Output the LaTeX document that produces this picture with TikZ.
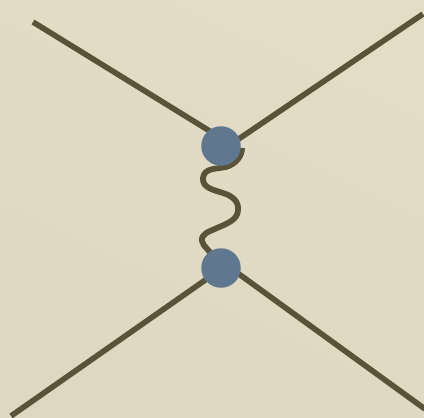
\documentclass[tikz,border=0pt]{standalone}
\usetikzlibrary{backgrounds}
\definecolor{bgA}{HTML}{E3DDC6}
\definecolor{bgB}{HTML}{DED8C2}
\definecolor{lineC}{HTML}{5A5339}
\definecolor{ballC}{HTML}{5F7890}
\tikzset{
  ball/.style={circle,fill=ballC,draw=none,minimum size=39.5pt,inner sep=0pt},
  leg/.style={draw=lineC,line width=5.6pt},
  wave/.style={draw=lineC,line width=5.8pt,line join=round}
}
\begin{document}
\begin{tikzpicture}[x=1pt,y=-1pt]
\useasboundingbox (0,0) rectangle (424,418);
\coordinate (tl) at (33,22);
\coordinate (tr) at (423,14);
\coordinate (bl) at (11,416);
\coordinate (br) at (425,409);
\node[ball] (top) at (221,146) {};
\node[ball] (bot) at (221,268) {};
\begin{scope}[on background layer]
\shade[left color=bgA,right color=bgB,shading angle=-25] (0,0) rectangle (424,418);
\draw[leg] (tl) -- ([yshift=8pt]top.center);
\draw[leg] (tr) -- ([yshift=-5pt]top.center);
\draw[leg] (bl) -- ([yshift=-1pt]bot.center);
\draw[leg] (br) -- ([yshift=7pt]bot.center);
\draw[wave] ([shift={(21,2)}]top.center)
  .. controls (242,156) and (236,164) .. (226,167)
  .. controls (216,169) and (204,168) .. (203,178)
  .. controls (202,188) and (214,190) .. (223,193)
  .. controls (233,196) and (239,202) .. (238,210)
  .. controls (238,220) and (226,224) .. (217,228)
  .. controls (208,232) and (201,234) .. (202,241)
  .. controls (203,247) and (210,249) .. (bot.center);
\end{scope}
\end{tikzpicture}
\end{document}
